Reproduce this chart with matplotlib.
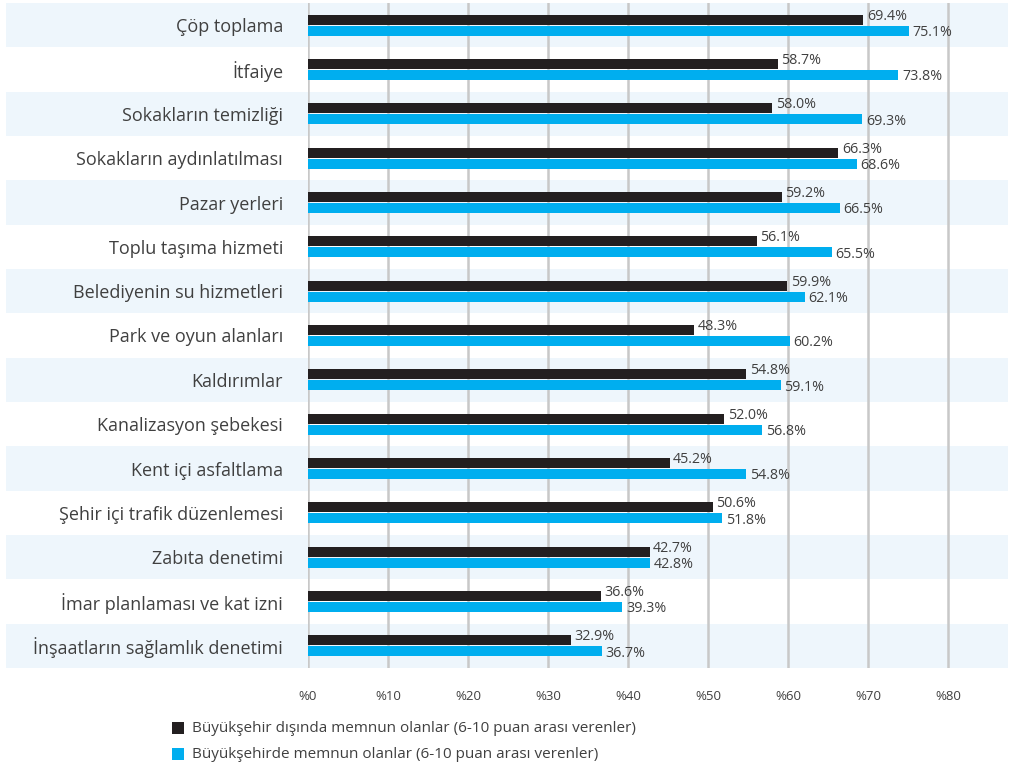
import matplotlib
matplotlib.use("Agg")
import matplotlib.pyplot as plt
from matplotlib.patches import Rectangle

plt.rcParams['font.family'] = ['Open Sans', 'DejaVu Sans']

categories = [
    "Çöp toplama", "İtfaiye", "Sokakların temizliği", "Sokakların aydınlatılması",
    "Pazar yerleri", "Toplu taşıma hizmeti", "Belediyenin su hizmetleri",
    "Park ve oyun alanları", "Kaldırımlar", "Kanalizasyon şebekesi",
    "Kent içi asfaltlama", "Şehir içi trafik düzenlemesi", "Zabıta denetimi",
    "İmar planlaması ve kat izni", "İnşaatların sağlamlık denetimi",
]
outside_metro = [69.4, 58.7, 58.0, 66.3, 59.2, 56.1, 59.9, 48.3, 54.8, 52.0,
                 45.2, 50.6, 42.7, 36.6, 32.9]
in_metro = [75.1, 73.8, 69.3, 68.6, 66.5, 65.5, 62.1, 60.2, 59.1, 56.8,
            54.8, 51.8, 42.8, 39.3, 36.7]
x_ticks = [0, 10, 20, 30, 40, 50, 60, 70, 80]
series_names = ["Büyükşehir dışında memnun olanlar (6-10 puan arası verenler)",
                "Büyükşehirde memnun olanlar (6-10 puan arası verenler)"]

dark = "#231F20"
blue = "#00AEEF"
band = "#EEF6FC"
grid = "#C8C8C8"
text = "#404040"

W, H = 1009, 770
fig = plt.figure(figsize=(W / 100, H / 100), dpi=100)
left, right, top, bottom = 308, 1008, 3, 668
ax = fig.add_axes([left / W, 1 - bottom / H, (right - left) / W, (bottom - top) / H])

n = len(categories)
xmax = (right - left) / 8.0
ax.set_xlim(0, xmax)
ax.set_ylim(n - 0.5, -0.5)

# alternating row bands, stretched under the category labels
band_left = (6 - left) / (right - left)
for i in range(n):
    if i % 2 == 0:
        ax.add_patch(Rectangle((band_left, i - 0.5), 1 - band_left, 1.0,
                               transform=ax.get_yaxis_transform(),
                               facecolor=band, edgecolor="none", zorder=0,
                               clip_on=False))

for t in x_ticks:
    ax.axvline(t, color=grid, lw=1.8, zorder=1)

bh = 0.225
off = 0.125
ys = list(range(n))
ax.barh([y - off for y in ys], outside_metro, height=bh, color=dark, zorder=3)
ax.barh([y + off for y in ys], in_metro, height=bh, color=blue, zorder=3)

for y, v in zip(ys, outside_metro):
    ax.text(v + 0.45, y - off - 0.08, f"{v:.1f}%", va="center", ha="left",
            fontsize=10.3, color=text, zorder=4)
for y, v in zip(ys, in_metro):
    ax.text(v + 0.45, y + off + 0.04, f"{v:.1f}%", va="center", ha="left",
            fontsize=10.3, color=text, zorder=4)

ax.set_yticks(ys)
ax.set_yticklabels(categories, fontsize=13, color=text)
ax.tick_params(axis="y", length=0, pad=18)
ax.set_xticks(x_ticks)
ax.set_xticklabels([f"%{t}" for t in x_ticks], fontsize=9.5, color=text)
ax.tick_params(axis="x", length=0, pad=16)
for s in ax.spines.values():
    s.set_visible(False)

# legend
for k, (name, col) in enumerate(zip(series_names, [dark, blue])):
    yc = 728 + k * 26
    fig.patches.append(Rectangle((172 / W, 1 - (yc + 6) / H), 12 / W, 12 / H,
                                 transform=fig.transFigure, facecolor=col,
                                 edgecolor="none"))
    fig.text(192 / W, 1 - yc / H, name, fontsize=11, color=text, va="center", ha="left")

fig.savefig("out.png", dpi=100, facecolor="white")
